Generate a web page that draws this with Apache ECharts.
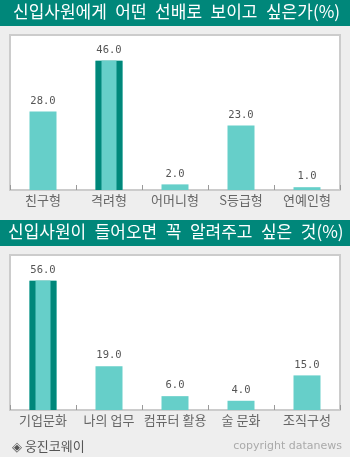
<!DOCTYPE html>
<html><head><meta charset="utf-8">
<script src="https://cdn.jsdelivr.net/npm/echarts@6/dist/echarts.min.js"></script>
<style>html,body{margin:0;padding:0;background:#eeeeee;}#c{width:350px;height:457px;}</style>
</head><body><div id="c"></div>
<script>
const title1 = '신입사원에게 어떤 선배로 보이고 싶은가(%)';
const categories1 = ['친구형', '격려형', '어머니형', 'S등급형', '연예인형'];
const values1 = [28, 46, 2, 23, 1];
const highlight1 = 1;

const title2 = '신입사원이 들어오면 꼭 알려주고 싶은 것(%)';
const categories2 = ['기업문화', '나의 업무', '컴퓨터 활용', '술 문화', '조직구성'];
const values2 = [56, 19, 6, 4, 15];
const highlight2 = 0;

const sourceText = '◈ 웅진코웨이';
const copyrightText = 'copyright datanews';

const DARK = '#00877a', LIGHT = '#66cfc9';
const KFONT = '"Noto Sans CJK KR", sans-serif';

const chart = echarts.init(document.getElementById('c'), null, {renderer: 'canvas'});

function onlyAt(arr, idx) { return arr.map((v, i) => i === idx ? v : null); }
function wideSpaces(t) { return t.replace(/ /g, '\u2002'); }

const grids = [
  {left: 10, top: 35, width: 330, height: 155},
  {left: 10, top: 255, width: 330, height: 155}
];
const sets = [
  {cats: categories1, vals: values1, hl: highlight1},
  {cats: categories2, vals: values2, hl: highlight2}
];

const xAxis = [], yAxis = [], series = [];
sets.forEach((s, g) => {
  for (let k = 0; k < 3; k++) {
    xAxis.push({
      type: 'category', gridIndex: g, data: s.cats, show: k === 0,
      axisLine: {show: true, lineStyle: {color: '#cccccc', width: 2}},
      axisTick: {show: true, inside: true, length: 5, lineStyle: {color: '#999999'}},
      axisLabel: {color: '#666666', fontSize: 13, fontFamily: KFONT, margin: 4, interval: 0}
    });
  }
  yAxis.push({type: 'value', gridIndex: g, show: false, min: 0, max: Math.max(...s.vals) * 1.2, splitLine: {show: false}});
  series.push({
    type: 'bar', xAxisIndex: g * 3, yAxisIndex: g, data: s.vals, barWidth: 27,
    itemStyle: {color: LIGHT},
    label: {show: true, position: 'top', distance: 5, color: '#555555', fontSize: 10.5,
      fontFamily: '"DejaVu Sans Mono", monospace', formatter: p => p.value.toFixed(1)},
    silent: true, animation: false
  });
  series.push({
    type: 'bar', xAxisIndex: g * 3 + 1, yAxisIndex: g, data: onlyAt(s.vals, s.hl), barWidth: 27,
    itemStyle: {color: DARK}, silent: true, animation: false
  });
  series.push({
    type: 'bar', xAxisIndex: g * 3 + 2, yAxisIndex: g, data: onlyAt(s.vals, s.hl), barWidth: 15,
    itemStyle: {color: LIGHT}, silent: true, animation: false
  });
});

chart.setOption({
  backgroundColor: '#eeeeee',
  animation: false,
  grid: grids.map(g => Object.assign({show: true, backgroundColor: '#ffffff', borderColor: '#cccccc', borderWidth: 2}, g)),
  xAxis, yAxis, series,
  graphic: [
    {type: 'rect', left: 0, top: 0, shape: {width: 350, height: 26}, style: {fill: DARK}, z: 0},
    {type: 'text', left: 13, top: 3, style: {text: wideSpaces(title1), fill: '#ffffff', fontSize: 17, fontFamily: KFONT}},
    {type: 'rect', left: 0, top: 220, shape: {width: 350, height: 26}, style: {fill: DARK}, z: 0},
    {type: 'text', left: 8, top: 223, style: {text: wideSpaces(title2), fill: '#ffffff', fontSize: 17, fontFamily: KFONT}},
    {type: 'text', left: 12, top: 440, style: {text: sourceText, fill: '#555555', fontSize: 13, fontFamily: KFONT}},
    {type: 'text', right: 8, top: 441, style: {text: copyrightText, fill: '#aaaaaa', fontSize: 11, fontFamily: '"DejaVu Sans", sans-serif'}}
  ]
});
</script></body></html>
